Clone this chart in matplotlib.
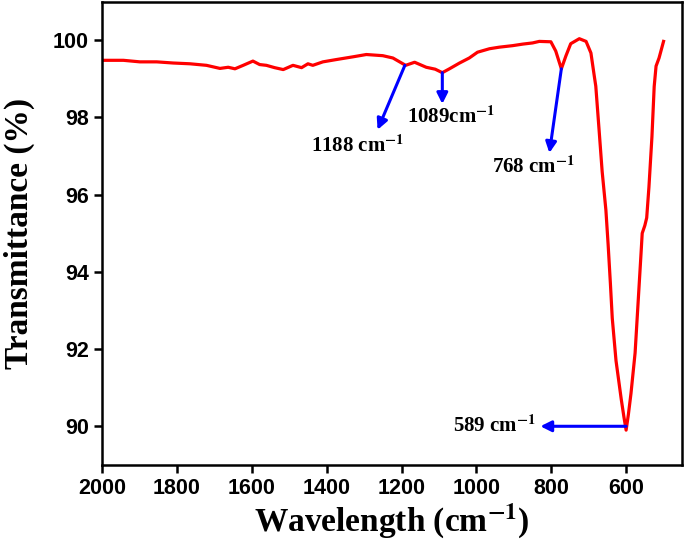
import matplotlib
matplotlib.use("Agg")
import matplotlib.pyplot as plt

# Spectrum (wavenumber, transmittance)
wavenumber = [2000, 1943, 1899, 1854, 1810, 1765, 1721, 1685, 1663, 1645, 1623, 1597,
              1579, 1561, 1539, 1516, 1490, 1467, 1450, 1437, 1410, 1374, 1330, 1294,
              1250, 1223, 1189, 1165, 1134, 1110, 1091, 1072, 1045, 1019, 997, 965,
              939, 903, 876, 850, 832, 801, 788, 773, 761, 748, 725, 707, 694, 685,
              681, 672, 664, 654, 648, 642, 637, 627, 613, 606, 600, 594, 587, 576,
              568, 560, 557, 550, 545, 539, 531, 525, 520, 512, 500]
transmittance = [99.48, 99.48, 99.44, 99.44, 99.41, 99.39, 99.35, 99.27, 99.30, 99.26,
                 99.35, 99.46, 99.37, 99.35, 99.29, 99.24, 99.35, 99.29, 99.39, 99.35,
                 99.44, 99.50, 99.57, 99.63, 99.60, 99.54, 99.35, 99.43, 99.30, 99.25,
                 99.16, 99.26, 99.41, 99.54, 99.69, 99.78, 99.82, 99.86, 99.90, 99.93,
                 99.97, 99.96, 99.72, 99.26, 99.59, 99.91, 100.04, 99.97, 99.67, 99.07,
                 98.81, 97.65, 96.6, 95.6, 94.7, 93.7, 92.8, 91.7, 90.7, 90.25, 89.9,
                 90.3, 90.85, 91.9, 93.2, 94.5, 95.0, 95.2, 95.4, 96.2, 97.5, 98.8,
                 99.33, 99.54, 99.97]

# Peak annotations: label, arrow start (x, y), arrow end (x, y), text position (x, y)
peak_labels = ["1188 cm$^{\\mathbf{-1}}$", "1089cm$^{\\mathbf{-1}}$",
               "768 cm$^{\\mathbf{-1}}$", "589 cm$^{\\mathbf{-1}}$"]
arrow_start = [(1191, 99.35), (1091, 99.16), (773, 99.26), (600, 90.0)]
arrow_end = [(1264, 97.68), (1091, 98.35), (805, 97.08), (829, 90.0)]
text_pos = [(1318, 97.25), (1067, 98.02), (848, 96.72), (840, 90.0)]
text_ha = ["center", "center", "center", "right"]

xticks = [2000, 1800, 1600, 1400, 1200, 1000, 800, 600]
yticks = [90, 92, 94, 96, 98, 100]

plt.rcParams['mathtext.fontset'] = 'stix'
serif = ['Liberation Serif', 'DejaVu Serif']
sans = ['Liberation Sans', 'DejaVu Sans']

fig = plt.figure(figsize=(6.85, 5.45), dpi=100)
ax = fig.add_axes([0.149, 0.147, 0.847, 0.85])

ax.plot(wavenumber, transmittance, color='red', lw=2.3, solid_joinstyle='round')

for lab, s, e, t, ha in zip(peak_labels, arrow_start, arrow_end, text_pos, text_ha):
    ax.annotate('', xy=e, xytext=s,
                arrowprops=dict(arrowstyle='-|>', color='blue', lw=2.2,
                                mutation_scale=16, shrinkA=0, shrinkB=0))
    ax.text(t[0], t[1], lab, ha=ha, va='center', fontsize=15,
            fontweight='bold', family=serif)

ax.set_xlim(2000, 450)
ax.set_ylim(89, 101)
ax.set_xticks(xticks)
ax.set_yticks(yticks)
ax.set_xticklabels([str(v) for v in xticks], fontsize=15.5, fontweight='bold', family=sans)
ax.set_yticklabels([str(v) for v in yticks], fontsize=15.5, fontweight='bold', family=sans)
ax.tick_params(direction='out', length=6, width=1.8, top=False, right=False)
for sp in ax.spines.values():
    sp.set_linewidth(1.8)

ax.set_xlabel('Wavelength (cm$^{\\mathbf{-1}}$)', fontsize=24, fontweight='bold',
              family=serif, labelpad=2)
ax.set_ylabel('Transmittance (%)', fontsize=24, fontweight='bold', family=serif,
              labelpad=13)

fig.savefig('out.png', dpi=100)
